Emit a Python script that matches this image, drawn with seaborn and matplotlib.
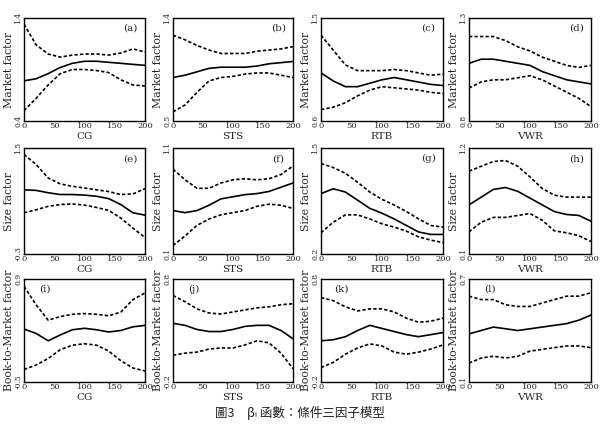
import numpy as np
import pandas as pd
import matplotlib
matplotlib.use("Agg")
import matplotlib.pyplot as plt
import seaborn as sns

#---------------------------- data ----------------------------
x_grid = [0, 20, 40, 60, 80, 100, 120, 140, 160, 180, 200]

factors = ["Market factor", "Size factor", "Book-to-Market factor"]
variables = ["CG", "STS", "RTB", "VWR"]
panel_tags = ["(a)", "(b)", "(c)", "(d)", "(e)", "(f)", "(g)", "(h)", "(i)", "(j)", "(k)", "(l)"]

y_limits = [(0.4, 1.4), (0.5, 1.4), (0.6, 1.5), (0.8, 1.3),
            (-0.3, 1.5), (0.1, 1.1), (0.2, 1.5), (0.1, 1.2),
            (-0.5, 0.9), (-0.2, 0.8), (-0.2, 0.8), (0.1, 0.7)]

# (a) market / CG
a_hi = [1.34, 1.14, 1.05, 1.02, 1.04, 1.05, 1.05, 1.04, 1.06, 1.10, 1.07]
a_mid = [0.79, 0.81, 0.86, 0.92, 0.96, 0.98, 0.98, 0.97, 0.96, 0.95, 0.94]
a_lo = [0.50, 0.62, 0.75, 0.86, 0.90, 0.90, 0.89, 0.87, 0.80, 0.75, 0.74]
# (b) market / STS
b_hi = [1.25, 1.21, 1.16, 1.12, 1.09, 1.09, 1.09, 1.11, 1.12, 1.13, 1.15]
b_mid = [0.88, 0.90, 0.93, 0.96, 0.97, 0.97, 0.97, 0.98, 1.00, 1.01, 1.02]
b_lo = [0.58, 0.64, 0.75, 0.85, 0.88, 0.89, 0.91, 0.92, 0.92, 0.90, 0.88]
# (c) market / RTB
c_hi = [1.35, 1.22, 1.09, 1.04, 1.04, 1.04, 1.05, 1.04, 1.02, 1.00, 1.01]
c_mid = [1.02, 0.95, 0.90, 0.90, 0.93, 0.96, 0.98, 0.96, 0.94, 0.92, 0.91]
c_lo = [0.70, 0.72, 0.76, 0.82, 0.87, 0.90, 0.89, 0.88, 0.87, 0.85, 0.84]
# (d) market / VWR
d_hi = [1.21, 1.21, 1.21, 1.19, 1.16, 1.14, 1.11, 1.09, 1.07, 1.06, 1.07]
d_mid = [1.08, 1.10, 1.10, 1.09, 1.08, 1.07, 1.04, 1.02, 1.00, 0.99, 0.98]
d_lo = [0.96, 0.99, 1.00, 1.00, 1.01, 1.02, 1.00, 0.97, 0.94, 0.91, 0.87]
# (e) size / CG
e_hi = [1.39, 1.22, 0.99, 0.89, 0.85, 0.82, 0.79, 0.76, 0.71, 0.72, 0.81]
e_mid = [0.79, 0.78, 0.74, 0.71, 0.71, 0.70, 0.68, 0.64, 0.54, 0.40, 0.36]
e_lo = [0.40, 0.45, 0.51, 0.54, 0.55, 0.53, 0.49, 0.44, 0.31, 0.14, -0.02]
# (f) size / STS
f_hi = [0.90, 0.80, 0.72, 0.72, 0.77, 0.80, 0.81, 0.80, 0.81, 0.85, 0.93]
f_mid = [0.51, 0.49, 0.51, 0.56, 0.62, 0.64, 0.66, 0.67, 0.69, 0.73, 0.77]
f_lo = [0.18, 0.27, 0.37, 0.43, 0.47, 0.49, 0.51, 0.55, 0.57, 0.56, 0.53]
# (g) size / RTB
g_hi = [1.31, 1.26, 1.19, 1.08, 0.96, 0.87, 0.80, 0.72, 0.63, 0.55, 0.53]
g_mid = [0.94, 1.00, 0.96, 0.86, 0.76, 0.70, 0.63, 0.55, 0.47, 0.44, 0.44]
g_lo = [0.46, 0.59, 0.68, 0.68, 0.63, 0.57, 0.53, 0.48, 0.41, 0.37, 0.34]
# (h) size / VWR
h_hi = [0.96, 1.01, 1.06, 1.07, 1.01, 0.90, 0.78, 0.71, 0.69, 0.69, 0.69]
h_mid = [0.61, 0.69, 0.77, 0.79, 0.75, 0.68, 0.61, 0.54, 0.51, 0.50, 0.44]
h_lo = [0.33, 0.43, 0.48, 0.48, 0.50, 0.52, 0.45, 0.34, 0.32, 0.29, 0.23]
# (i) book-to-market / CG
i_hi = [0.80, 0.55, 0.34, 0.39, 0.42, 0.43, 0.42, 0.40, 0.45, 0.62, 0.71]
i_mid = [0.22, 0.16, 0.06, 0.14, 0.21, 0.23, 0.21, 0.18, 0.20, 0.25, 0.27]
i_lo = [-0.33, -0.27, -0.18, -0.06, 0.00, 0.02, 0.00, -0.08, -0.21, -0.31, -0.35]
# (j) book-to-market / STS
j_hi = [0.64, 0.58, 0.51, 0.47, 0.46, 0.48, 0.50, 0.52, 0.53, 0.55, 0.56]
j_mid = [0.37, 0.35, 0.31, 0.29, 0.29, 0.31, 0.34, 0.35, 0.35, 0.30, 0.22]
j_lo = [0.06, 0.08, 0.09, 0.12, 0.13, 0.13, 0.16, 0.20, 0.18, 0.08, -0.07]
# (k) book-to-market / RTB
k_hi = [0.62, 0.59, 0.53, 0.49, 0.51, 0.51, 0.48, 0.42, 0.38, 0.39, 0.42]
k_mid = [0.20, 0.21, 0.24, 0.30, 0.35, 0.32, 0.29, 0.26, 0.24, 0.26, 0.28]
k_lo = [-0.06, -0.01, 0.07, 0.13, 0.17, 0.15, 0.09, 0.07, 0.09, 0.12, 0.16]
# (l) book-to-market / VWR
l_hi = [0.60, 0.58, 0.58, 0.55, 0.54, 0.54, 0.56, 0.58, 0.60, 0.60, 0.62]
l_mid = [0.38, 0.40, 0.42, 0.41, 0.40, 0.41, 0.42, 0.43, 0.44, 0.46, 0.49]
l_lo = [0.21, 0.24, 0.25, 0.24, 0.25, 0.28, 0.29, 0.30, 0.31, 0.31, 0.30]

curves = [(a_hi, a_mid, a_lo), (b_hi, b_mid, b_lo), (c_hi, c_mid, c_lo), (d_hi, d_mid, d_lo),
          (e_hi, e_mid, e_lo), (f_hi, f_mid, f_lo), (g_hi, g_mid, g_lo), (h_hi, h_mid, h_lo),
          (i_hi, i_mid, i_lo), (j_hi, j_mid, j_lo), (k_hi, k_mid, k_lo), (l_hi, l_mid, l_lo)]

caption = "圖3　βᵢ 函數：條件三因子模型"

#---------------------------- drawing ----------------------------
sns.set_style("white")
plt.rcParams["font.family"] = ["DejaVu Serif"]

fig = plt.figure(figsize=(6.0, 4.29), dpi=100)

col_left = [24, 173, 321, 469]
col_right = [145, 293, 443, 591]
row_top = [18, 148, 279]
row_bottom = [121, 254, 382]

for idx in range(12):
    r, c = divmod(idx, 4)
    l = col_left[c] / 600
    w = (col_right[c] - col_left[c]) / 600
    b = 1 - row_bottom[r] / 429
    h = (row_bottom[r] - row_top[r]) / 429
    ax = fig.add_axes([l, b, w, h])

    hi, mid, lo = curves[idx]
    df = pd.DataFrame({"x": x_grid * 3,
                       "y": hi + mid + lo,
                       "band": ["hi"] * 11 + ["mid"] * 11 + ["lo"] * 11})
    sns.lineplot(data=df, x="x", y="y", style="band",
                 dashes={"hi": (2.0, 1.3), "mid": "", "lo": (2.0, 1.3)},
                 color="black", linewidth=1.2, legend=False, ax=ax)

    lo_lim, hi_lim = y_limits[idx]
    ax.set_xlim(0, 200)
    ax.set_ylim(lo_lim, hi_lim)
    ax.set_xticks([0, 50, 100, 150, 200])
    ax.set_xticklabels(["0", "50", "100", "150", "200"], fontsize=6)
    ax.set_yticks([lo_lim, hi_lim])
    ax.set_yticklabels([f"{lo_lim:g}", f"{hi_lim:g}"], fontsize=5.5, rotation=90, va="center")
    ax.tick_params(axis="both", length=0, pad=1)
    ax.set_xlabel(variables[c], fontsize=7.5, labelpad=1)
    ax.set_ylabel(factors[r], fontsize=7.8, labelpad=0.5)
    for s in ax.spines.values():
        s.set_color("black")
        s.set_linewidth(1.0)

    if r < 2:
        ax.text(0.88, 0.9, panel_tags[idx], transform=ax.transAxes, fontsize=7.5, ha="center", va="center")
    else:
        ax.text(0.17, 0.9, panel_tags[idx], transform=ax.transAxes, fontsize=7.5, ha="center", va="center")

fig.text(0.5, 1 - 413 / 429, caption, ha="center", va="center", fontsize=9, color="#222222",
         family=["Noto Sans CJK TC", "DejaVu Sans"])

fig.savefig("out.png", dpi=100)
